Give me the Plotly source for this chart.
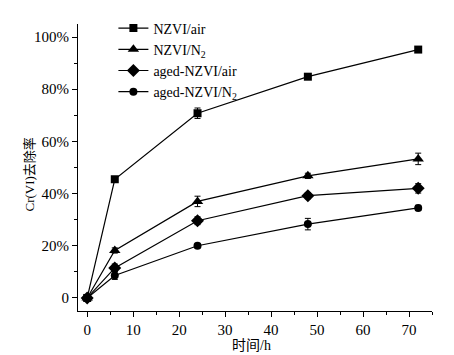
import plotly.graph_objects as go

time_h = [0, 6, 24, 48, 72]
nzvi_air = [0, 45.5, 70.8, 84.8, 95.2]
nzvi_air_err = [0, 0.8, 2.0, 0.8, 0.8]
nzvi_n2 = [0, 18.2, 37.0, 46.8, 53.3]
nzvi_n2_err = [0, 1.0, 2.0, 1.0, 2.2]
aged_air = [0, 11.5, 29.6, 39.2, 42.0]
aged_air_err = [0, 1.5, 1.5, 1.2, 1.8]
aged_n2 = [0, 8.6, 20.0, 28.3, 34.5]
aged_n2_err = [0, 1.5, 0.8, 2.2, 1.0]

series = [
    ("NZVI/air", nzvi_air, nzvi_air_err, "square", 8),
    ("NZVI/N<sub>2</sub>", nzvi_n2, nzvi_n2_err, "triangle-up", 10),
    ("aged-NZVI/air", aged_air, aged_air_err, "diamond", 10),
    ("aged-NZVI/N<sub>2</sub>", aged_n2, aged_n2_err, "circle", 8),
]

y_ticks = [0, 20, 40, 60, 80, 100]
y_labels = ["0", "20%", "40%", "60%", "80%", "100%"]
x_ticks = [0, 10, 20, 30, 40, 50, 60, 70]

fig = go.Figure()
for name, vals, err, sym, sz in series:
    fig.add_trace(go.Scatter(
        x=time_h, y=vals, name=name, mode="lines+markers",
        line=dict(color="black", width=1.2),
        marker=dict(symbol=sym, size=sz, color="black"),
        error_y=dict(type="data", array=err, visible=True, color="black", thickness=1, width=3),
    ))

font_serif = "Liberation Serif, Times New Roman, serif"
fig.update_layout(
    width=454, height=355,
    margin=dict(l=70, r=30, t=16, b=52, autoexpand=False),
    paper_bgcolor="white", plot_bgcolor="white",
    font=dict(family=font_serif, size=14, color="black"),
    showlegend=True,
    legend=dict(x=0.1, y=1.04, xanchor="left", yanchor="top",
                bgcolor="rgba(0,0,0,0)", font=dict(size=14, family=font_serif),
                tracegroupgap=0, itemwidth=30),
    xaxis=dict(range=[-2, 75], tickvals=x_ticks, showline=True, linecolor="black",
               linewidth=1, ticks="outside", ticklen=5, tickcolor="black",
               showgrid=False, zeroline=False, mirror=False, automargin=False,
               minor=dict(tickvals=[5, 15, 25, 35, 45, 55, 65, 75], ticks="outside", ticklen=3, tickcolor="black"),
               tickfont=dict(size=15)),
    yaxis=dict(range=[-5, 105], tickvals=y_ticks, ticktext=y_labels, showline=True,
               linecolor="black", linewidth=1, ticks="outside", ticklen=5, tickcolor="black",
               showgrid=False, zeroline=False, automargin=False,
               minor=dict(tickvals=[10, 30, 50, 70, 90], ticks="outside", ticklen=3, tickcolor="black"),
               tickfont=dict(size=15)),
    annotations=[
        dict(text="时间/h", x=0.49, y=-0.12, xref="paper", yref="paper",
             xanchor="center", yanchor="middle", showarrow=False,
             font=dict(family="Liberation Serif, Noto Sans CJK SC", size=14)),
        dict(text="Cr(VI)去除率", x=-0.136, y=0.475, xref="paper", yref="paper",
             xanchor="center", yanchor="middle", showarrow=False, textangle=-90,
             font=dict(family="Liberation Serif, Noto Sans CJK SC", size=13)),
    ],
)

fig.write_html("out.html")
